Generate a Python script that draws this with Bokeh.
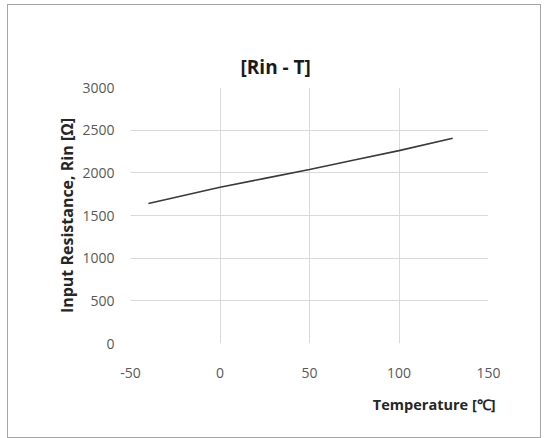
from bokeh.plotting import figure
from bokeh.models import FixedTicker, Title
from bokeh.embed import file_html
from bokeh.resources import INLINE

# Input resistance versus temperature
temperature_c = [-40, 0, 25, 50, 75, 100, 130]
rin_ohm = [1640, 1830, 1935, 2040, 2150, 2260, 2405]

x_ticks = [-50, 0, 50, 100, 150]
y_ticks = [0, 500, 1000, 1500, 2000, 2500, 3000]

FONT = "'Open Sans', sans-serif"

p = figure(
    width=534, height=434,
    x_range=(-50, 150), y_range=(0, 3000),
    output_backend="svg", toolbar_location=None,
    min_border_left=122, min_border_right=54,
    min_border_top=82, min_border_bottom=96,
)
p.margin = (4, 0, 0, 7)
p.styles = {"border": "1px solid #a6a6a6"}
p.background_fill_color = "white"
p.border_fill_color = "white"
p.outline_line_color = None

p.line(temperature_c, rin_ohm, line_color="#3a3a3a", line_width=1.6)

for ax in (p.xaxis, p.yaxis):
    ax.axis_line_color = None
    ax.major_tick_line_color = None
    ax.minor_tick_line_color = None
    ax.major_label_text_font = FONT
    ax.major_label_text_font_size = "14px"
    ax.major_label_text_color = "#595959"

p.xaxis.ticker = FixedTicker(ticks=x_ticks)
p.yaxis.ticker = FixedTicker(ticks=y_ticks)
p.xaxis.major_label_overrides = {t: str(t) for t in x_ticks}
p.xaxis.major_label_standoff = 18
p.yaxis.major_label_standoff = 10

p.xgrid.ticker = FixedTicker(ticks=x_ticks)
p.ygrid.ticker = FixedTicker(ticks=y_ticks)
p.grid.grid_line_color = "#d9d9d9"
p.grid.grid_line_width = 1

# Chart title above the frame
p.title = Title(
    text="[Rin - T]", align="left", offset=110, standoff=16,
    text_font=FONT, text_font_size="19px", text_font_style="bold",
    text_color="#1a1a1a",
)

# Axis titles as side panels
p.add_layout(Title(
    text="Temperature [℃]", align="right", offset=-7, standoff=24,
    text_font=FONT, text_font_size="14.5px", text_font_style="bold",
    text_color="#262626",
), "below")
p.add_layout(Title(
    text="Input Resistance, Rin [Ω]", align="center", offset=23, standoff=4,
    text_font=FONT, text_font_size="16px", text_font_style="bold",
    text_color="#262626",
), "left")

open("out.html", "w").write(file_html(p, INLINE))
